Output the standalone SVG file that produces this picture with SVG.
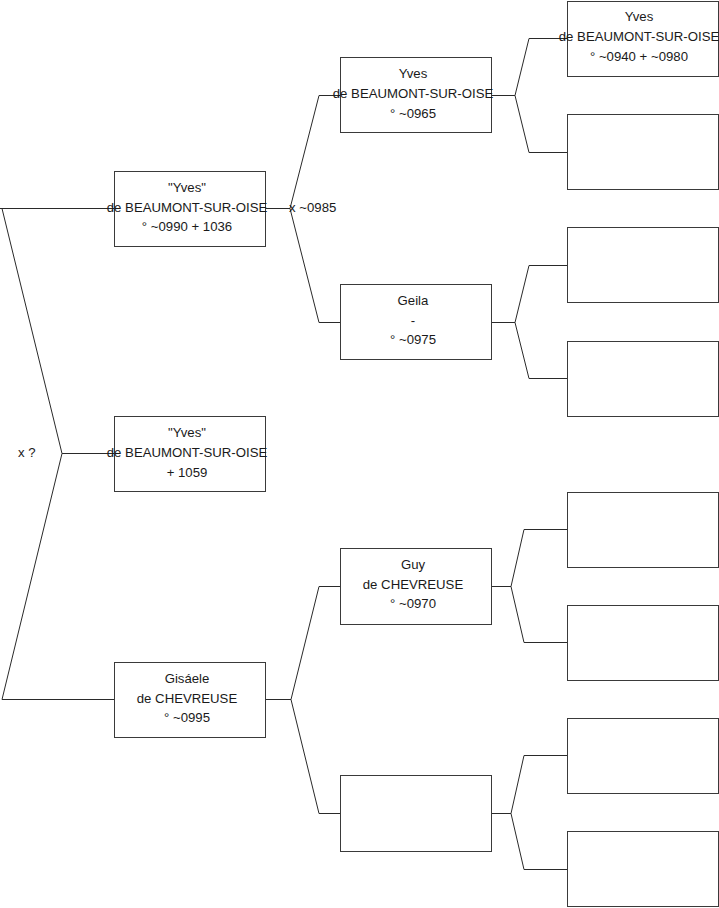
<svg xmlns="http://www.w3.org/2000/svg" width="719" height="908" viewBox="0 0 719 908">
<style>
.b{fill:#fff;stroke:#3a3a3a;stroke-width:1}
.c{fill:none;stroke:#2a2a2a;stroke-width:1}
text{font-family:"Liberation Sans",Arial,sans-serif;font-size:13.2px;fill:#1a1a1a}
.m{text-anchor:middle}
</style>
<rect width="719" height="908" fill="#fff"/>
<g id="connectors" class="c">
<path d="M0,208.5 H114 M2,208.5 L62,453.5 L2,699.5 M62,453.5 H114 M2,699.5 H114"/>
<path d="M265,208.5 H290 M290,208.5 L319,95.5 H340 M290,208.5 L319,322.5 H340"/>
<path d="M265,699.5 H291 M291,699.5 L319,586.5 H340 M291,699.5 L319,813.5 H340"/>
<path d="M491,95.5 H515 M515,95.5 L529,38.5 H567 M515,95.5 L529,152.5 H567"/>
<path d="M491,322.5 H515 M515,322.5 L529,265.5 H567 M515,322.5 L529,378.5 H567"/>
<path d="M491,586.5 H511 M511,586.5 L524,529.5 H567 M511,586.5 L524,642.5 H567"/>
<path d="M491,813.5 H511 M511,813.5 L524,755.5 H567 M511,813.5 L524,869.5 H567"/>
</g>
<g id="labels">
<text x="289" y="212">x ~0985</text>
<text x="18" y="457">x ?</text>
</g>
<g id="p1"><rect class="b" x="114.5" y="171.5" width="151" height="75"/>
<text class="m" x="187" y="192">"Yves"</text><text class="m" x="187" y="212">de BEAUMONT-SUR-OISE</text><text class="m" x="187" y="231">° ~0990 + 1036</text></g>
<g id="p1b"><rect class="b" x="114.5" y="416.5" width="151" height="75"/>
<text class="m" x="187" y="437">"Yves"</text><text class="m" x="187" y="457">de BEAUMONT-SUR-OISE</text><text class="m" x="187" y="477">+ 1059</text></g>
<g id="p3"><rect class="b" x="114.5" y="662.5" width="151" height="75"/>
<text class="m" x="187" y="683">Gisáele</text><text class="m" x="187" y="703">de CHEVREUSE</text><text class="m" x="187" y="722">° ~0995</text></g>
<g id="p4"><rect class="b" x="340.5" y="57.5" width="151" height="75"/>
<text class="m" x="413" y="78">Yves</text><text class="m" x="413" y="98">de BEAUMONT-SUR-OISE</text><text class="m" x="413" y="118">° ~0965</text></g>
<g id="p5"><rect class="b" x="340.5" y="284.5" width="151" height="75"/>
<text class="m" x="413" y="305">Geila</text><text class="m" x="413" y="325">-</text><text class="m" x="413" y="344">° ~0975</text></g>
<g id="p6"><rect class="b" x="340.5" y="548.5" width="151" height="76"/>
<text class="m" x="413" y="569">Guy</text><text class="m" x="413" y="589">de CHEVREUSE</text><text class="m" x="413" y="608">° ~0970</text></g>
<g id="p7"><rect class="b" x="340.5" y="775.5" width="151" height="76"/></g>
<g id="p8"><rect class="b" x="567.5" y="1.5" width="151" height="75"/>
<text class="m" x="639" y="21">Yves</text><text class="m" x="639" y="41">de BEAUMONT-SUR-OISE</text><text class="m" x="639" y="61">° ~0940 + ~0980</text></g>
<g id="p9"><rect class="b" x="567.5" y="114.5" width="151" height="75"/></g>
<g id="p10"><rect class="b" x="567.5" y="227.5" width="151" height="75"/></g>
<g id="p11"><rect class="b" x="567.5" y="341.5" width="151" height="75"/></g>
<g id="p12"><rect class="b" x="567.5" y="492.5" width="151" height="75"/></g>
<g id="p13"><rect class="b" x="567.5" y="605.5" width="151" height="75"/></g>
<g id="p14"><rect class="b" x="567.5" y="718.5" width="151" height="75"/></g>
<g id="p15"><rect class="b" x="567.5" y="831.5" width="151" height="75"/></g>
</svg>
